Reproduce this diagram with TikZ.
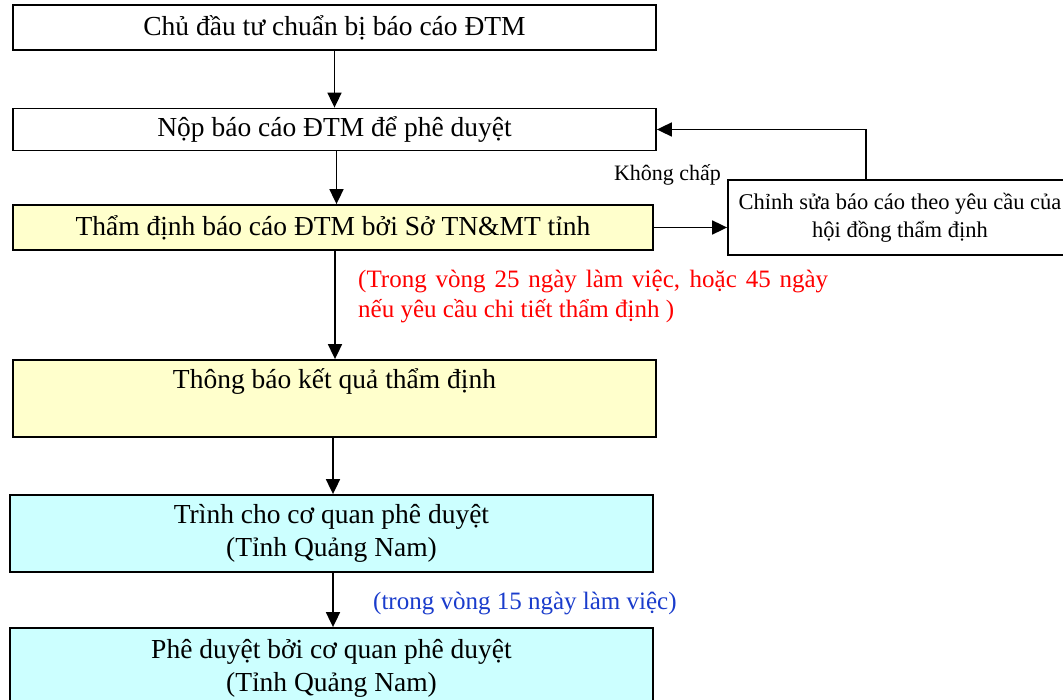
\documentclass[tikz,border=0pt]{standalone}
\usepackage{fontspec}
\setmainfont{Liberation Serif}
\usetikzlibrary{arrows.meta}
\definecolor{ylw}{HTML}{FFFFCC}
\definecolor{cyn}{HTML}{CCFFFF}
\definecolor{redt}{HTML}{FF0000}
\definecolor{bluet}{HTML}{1A3CCC}
\begin{document}
\begin{tikzpicture}[x=1pt,y=-1pt,
  box/.style={draw=black, line width=1.8pt, rectangle, inner sep=0pt, align=center},
  arr/.style={line width=1.8pt, -{Triangle[length=15pt,width=14pt]}},
  maintext/.style={font=\fontsize{27.5}{33}\selectfont}]
\useasboundingbox (0,0) rectangle (1063,700);
\fill[white] (0,0) rectangle (1063,700);
% boxes
\node[box, maintext, minimum width=643pt, minimum height=45pt] (b1) at (334.5,27.5) {Chủ đầu tư chuẩn bị báo cáo ĐTM};
\node[box, maintext, minimum width=643pt, minimum height=42pt] (b2) at (334.5,129.5) {Nộp báo cáo ĐTM để phê duyệt};
\node[box, fill=ylw, maintext, minimum width=640pt, minimum height=45pt] (b3) at (333,227.5) {Thẩm định báo cáo ĐTM bởi Sở TN\&MT tỉnh};
\node[box, fill=white, font=\fontsize{22.5}{28}\selectfont, minimum width=344pt, minimum height=75pt] (r) at (900,217.5) {Chỉnh sửa báo cáo theo yêu cầu của\\hội đồng thẩm định};
\node[box, fill=ylw, minimum width=643pt, minimum height=77pt] (b4) at (334.5,398.5) {};
\node[maintext] (t4) at (334.5,382) {Thông báo kết quả thẩm định};
\node[box, fill=cyn, maintext, minimum width=643pt, minimum height=77pt] (b5) at (331.5,533.5) {Trình cho cơ quan phê duyệt\\(Tỉnh Quảng Nam)};
\node[box, fill=cyn, maintext, minimum width=643pt, minimum height=81pt] (b6) at (331.5,668.5) {Phê duyệt bởi cơ quan phê duyệt\\(Tỉnh Quảng Nam)};
% labels
\node[font=\fontsize{22}{26}\selectfont, anchor=center, inner sep=0pt] (kc) at (667.5,175) {Không chấp};
\node[font=\fontsize{25}{30}\selectfont, text=redt, align=justify, text width=470pt, anchor=north west, inner sep=0pt] (lr) at (358,270) {(Trong vòng 25 ngày làm việc, hoặc 45 ngày\linebreak nếu yêu cầu chi tiết thẩm định )};
\node[font=\fontsize{25}{30}\selectfont, text=bluet, anchor=west, inner sep=0pt] (lb) at (373,603) {(trong vòng 15 ngày làm việc)};
% connectors
\draw[arr] (b1.south) -- (b2.north);
\draw[arr] ([xshift=2pt]b2.south) -- ([xshift=3.5pt]b3.north);
\draw[arr] (b3.east) -- (b3.east -| r.west);
\coordinate (c1) at ([xshift=-34pt]r.north);
\draw[arr] (c1) |- (b2.east);
\draw[arr] ([xshift=2pt]b3.south) -- ([xshift=0.5pt]b4.north);
\draw[arr] ([xshift=-1.5pt]b4.south) -- ([xshift=1.5pt]b5.north);
\draw[arr] ([xshift=1.5pt]b5.south) -- ([xshift=1.5pt]b6.north);
\end{tikzpicture}
\end{document}
